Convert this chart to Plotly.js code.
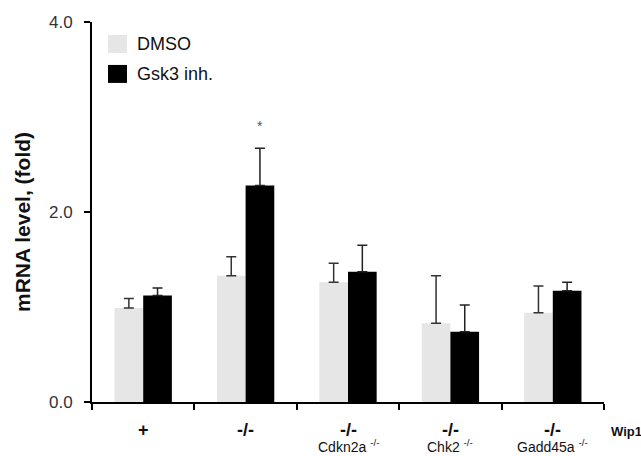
<!DOCTYPE html>
<html>
<head>
<meta charset="utf-8">
<script src="https://cdn.plot.ly/plotly-3.0.1.min.js"></script>
<style>html,body{margin:0;padding:0;background:#fff;}#chart{width:641px;height:456px;}</style>
</head>
<body>
<div id="chart"></div>
<script>
const categories = ["+", "-/-", "-/- Cdkn2a", "-/- Chk2", "-/- Gadd45a"];
const topLabels = ["+", "-/-", "-/-", "-/-", "-/-"];
const bottomLabels = ["", "", "Cdkn2a <sup>-/-</sup>", "Chk2 <sup>-/-</sup>", "Gadd45a <sup>-/-</sup>"];
const dmso = [0.99, 1.33, 1.26, 0.83, 0.94];
const dmsoErr = [0.10, 0.20, 0.20, 0.50, 0.28];
const gsk3 = [1.12, 2.28, 1.37, 0.74, 1.17];
const gsk3Err = [0.08, 0.39, 0.28, 0.28, 0.09];
const seriesNames = ["DMSO", "Gsk3 inh."];
const yTicks = [0, 2, 4];
const yTickText = ["0.0", "2.0", "4.0"];
const sigIndex = 1;
const sigLabel = "*";

const font = "Arial, 'Liberation Sans', sans-serif";

const traces = [
  {
    type: "bar", name: seriesNames[0], x: categories, y: dmso,
    marker: {color: "#e6e6e6", line: {width: 0}},
    error_y: {type: "data", array: dmsoErr, symmetric: false, arrayminus: dmso.map(() => 0),
              color: "#333", thickness: 1.5, width: 5},
    showlegend: false
  },
  {
    type: "bar", name: seriesNames[1], x: categories, y: gsk3,
    marker: {color: "#000", line: {width: 0}},
    error_y: {type: "data", array: gsk3Err, symmetric: false, arrayminus: gsk3.map(() => 0),
              color: "#222", thickness: 1.5, width: 5},
    showlegend: false
  }
];

const annotations = [];
categories.forEach((c, i) => {
  annotations.push({xref: "x", yref: "paper", x: c, y: 0, yshift: -28, yanchor: "middle",
    text: "<b>" + topLabels[i] + "</b>", showarrow: false,
    font: {family: font, size: 18, color: "#111"}});
  if (bottomLabels[i]) {
    annotations.push({xref: "x", yref: "paper", x: c, y: 0, yshift: -44, yanchor: "middle",
      text: bottomLabels[i], showarrow: false,
      font: {family: font, size: 14, color: "#111"}});
  }
});
annotations.push({xref: "paper", yref: "paper", x: 1, xshift: 5, xanchor: "left", y: 0, yshift: -29, yanchor: "middle",
  text: "<b>Wip1</b>", showarrow: false, font: {family: font, size: 13, color: "#111"}});
// significance star above Gsk3 bar
annotations.push({xref: "x", yref: "y", x: categories[sigIndex], xshift: 14.5, y: gsk3[sigIndex] + gsk3Err[sigIndex], yshift: 22,
  yanchor: "middle", text: sigLabel, showarrow: false, font: {family: font, size: 14, color: "#555"}});
// y title
annotations.push({xref: "paper", yref: "paper", x: 0, xshift: -70, y: 0.5, yshift: -10, xanchor: "center", yanchor: "middle",
  textangle: -90, text: "<b>mRNA level, (fold)</b>", showarrow: false, font: {family: font, size: 21, color: "#111"}});
// legend text
annotations.push({xref: "paper", yref: "paper", x: 0, xshift: 43, xanchor: "left", y: 1, yshift: -22, yanchor: "middle",
  text: seriesNames[0], showarrow: false, font: {family: font, size: 18, color: "#111"}});
annotations.push({xref: "paper", yref: "paper", x: 0, xshift: 43, xanchor: "left", y: 1, yshift: -52, yanchor: "middle",
  text: seriesNames[1], showarrow: false, font: {family: font, size: 18, color: "#111"}});

const plotH = 456 - 22 - 53.5;
const shapes = [
  {type: "rect", xref: "paper", yref: "paper", x0: 16/512, x1: 35/512, y0: 1 - 31/plotH, y1: 1 - 13/plotH,
   fillcolor: "#e6e6e6", line: {width: 0}},
  {type: "rect", xref: "paper", yref: "paper", x0: 16/512, x1: 35/512, y0: 1 - 61/plotH, y1: 1 - 43/plotH,
   fillcolor: "#000", line: {width: 0}}
];

const layout = {
  width: 641, height: 456,
  margin: {l: 92, r: 37, t: 22, b: 53.5},
  paper_bgcolor: "#fff", plot_bgcolor: "#fff",
  barmode: "group", bargap: 0.44, bargroupgap: 0,
  showlegend: false,
  xaxis: {
    type: "category", range: [-0.5, 4.5], showgrid: false, zeroline: false,
    showline: true, linecolor: "#000", linewidth: 2,
    ticks: "outside", tickson: "boundaries", ticklen: 6, tickwidth: 2, tickcolor: "#000",
    showticklabels: false
  },
  yaxis: {
    range: [0, 4], tickvals: yTicks, ticktext: yTickText, showgrid: false, zeroline: false,
    showline: true, linecolor: "#000", linewidth: 2,
    ticks: "outside", ticklen: 6, tickwidth: 2, tickcolor: "#000", ticklabelstandoff: 8,
    tickfont: {family: font, size: 17, color: "#333"}
  },
  annotations: annotations,
  shapes: shapes
};

Plotly.newPlot("chart", traces, layout, {displayModeBar: false, staticPlot: true});
</script>
</body>
</html>
